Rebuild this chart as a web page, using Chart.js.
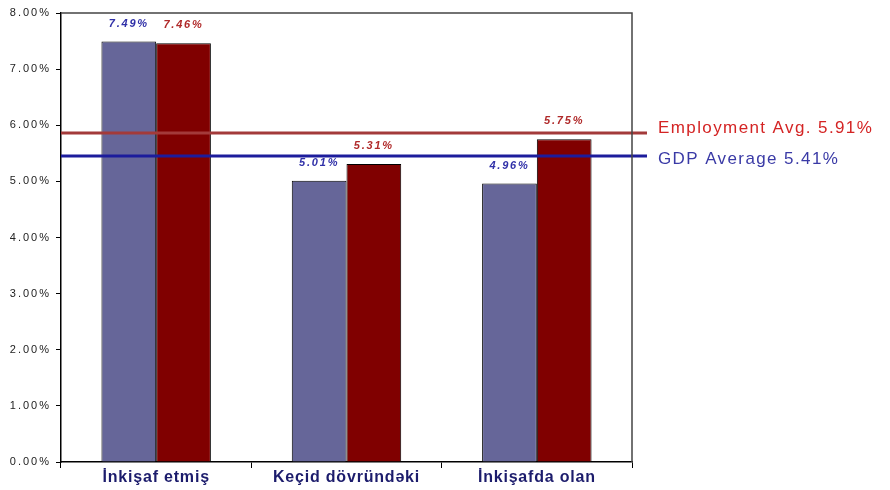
<!DOCTYPE html>
<html>
<head>
<meta charset="utf-8">
<script src="https://cdn.jsdelivr.net/npm/chart.js@4.4.1/dist/chart.umd.min.js"></script>
<style>
  html, body { margin: 0; padding: 0; background: #fff; }
</style>
</head>
<body>
<canvas id="chart" width="890" height="490"></canvas>
<script>
const categories = ["İnkişaf etmiş", "Keçid dövründəki", "İnkişafda olan"];
const gdpValues = [7.49, 5.01, 4.96];
const employmentValues = [7.46, 5.31, 5.75];
const yTicks = [0, 1, 2, 3, 4, 5, 6, 7, 8];

// average lines (position as drawn, text as printed)
const employmentAvgLine = 5.86;
const gdpAvgLine = 5.45;
const employmentAvgText = "Employment Avg. 5.91%";
const gdpAvgText = "GDP Average 5.41%";

const FONT = "'Liberation Sans', Arial, sans-serif";

// horizontal average lines + their labels on the right
const avgLines = {
  id: "avgLines",
  afterDatasetsDraw(chart) {
    const { ctx, chartArea, scales } = chart;
    const rows = [
      { v: employmentAvgLine, line: "#a33a3a", text: employmentAvgText, textColor: "#d42424", dy: -5 },
      { v: gdpAvgLine, line: "#1c1c9c", text: gdpAvgText, textColor: "#3a3aa6", dy: 3 },
    ];
    ctx.save();
    rows.forEach((r) => {
      const y = scales.y.getPixelForValue(r.v);
      ctx.strokeStyle = r.line;
      ctx.lineWidth = 3;
      ctx.beginPath();
      ctx.moveTo(chartArea.left, y);
      ctx.lineTo(chartArea.right + 15, y);
      ctx.stroke();
      ctx.fillStyle = r.textColor;
      ctx.font = "17px " + FONT;
      ctx.letterSpacing = "1.4px";
      ctx.textBaseline = "middle";
      ctx.textAlign = "left";
      ctx.fillText(r.text, chartArea.right + 26, y + r.dy);
    });
    ctx.restore();
  },
};

// value labels, axis texts and the plot frame
const textLayer = {
  id: "textLayer",
  afterDraw(chart) {
    const { ctx, chartArea, scales } = chart;
    ctx.save();
    ctx.strokeStyle = "#444";
    ctx.lineWidth = 1.5;
    ctx.beginPath();
    ctx.moveTo(chartArea.left, chartArea.top);
    ctx.lineTo(chartArea.right, chartArea.top);
    ctx.lineTo(chartArea.right, chartArea.bottom);
    ctx.stroke();

    ctx.textBaseline = "middle";

    // bar values
    const colors = ["#3030a8", "#b02a2a"];
    ctx.font = "italic bold 11px " + FONT;
    ctx.letterSpacing = "1.8px";
    ctx.textAlign = "center";
    chart.data.datasets.forEach((ds, i) => {
      const meta = chart.getDatasetMeta(i);
      meta.data.forEach((bar, j) => {
        ctx.fillStyle = colors[i];
        ctx.fillText(ds.data[j].toFixed(2) + "%", bar.x, bar.y - 18);
      });
    });

    // y tick labels
    ctx.font = "11px " + FONT;
    ctx.letterSpacing = "2px";
    ctx.textAlign = "right";
    ctx.fillStyle = "#222";
    yTicks.forEach((v) => {
      ctx.fillText(v.toFixed(2) + "%", chartArea.left - 10, scales.y.getPixelForValue(v));
    });

    // category labels
    ctx.font = "bold 16px " + FONT;
    ctx.letterSpacing = "0.8px";
    ctx.textAlign = "center";
    ctx.fillStyle = "#1c1c6c";
    categories.forEach((c, i) => {
      ctx.fillText(c, scales.x.getPixelForValue(i), chartArea.bottom + 16);
    });
    ctx.restore();
  },
};

new Chart(document.getElementById("chart"), {
  type: "bar",
  data: {
    labels: categories,
    datasets: [
      {
        label: "GDP",
        data: gdpValues,
        backgroundColor: "#666699",
        borderColor: "#000",
        borderWidth: 1,
      },
      {
        label: "Employment",
        data: employmentValues,
        backgroundColor: "#800000",
        borderColor: "#000",
        borderWidth: 1,
      },
    ],
  },
  options: {
    responsive: false,
    animation: false,
    devicePixelRatio: 1,
    layout: { padding: { top: 13, right: 258, left: 0, bottom: 0 } },
    plugins: {
      legend: { display: false },
      tooltip: { enabled: false },
    },
    datasets: {
      bar: { categoryPercentage: 0.575, barPercentage: 1.0 },
    },
    scales: {
      x: {
        offset: true,
        grid: { offset: true, drawOnChartArea: false, tickLength: 6, color: "#000" },
        border: { color: "#000", width: 1.5 },
        ticks: { display: false },
        afterFit(scale) { scale.height = 28; },
      },
      y: {
        min: 0,
        max: 8,
        afterBuildTicks(scale) { scale.ticks = yTicks.map((v) => ({ value: v })); },
        grid: { drawOnChartArea: false, tickLength: 5, color: "#000" },
        border: { color: "#000", width: 1.5 },
        ticks: { display: false },
        afterFit(scale) { scale.width = 61; },
      },
    },
  },
  plugins: [avgLines, textLayer],
});
</script>
</body>
</html>
